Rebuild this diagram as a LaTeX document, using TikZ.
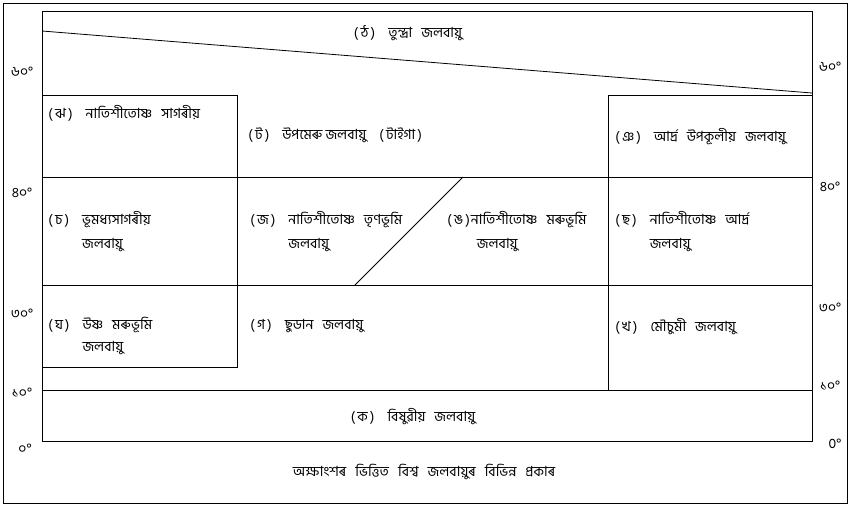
\documentclass[tikz,border=0pt]{standalone}
\usepackage{fontspec}
\newfontfamily\bnfont[Script=Bengali]{Hind Siliguri}
\usetikzlibrary{positioning}
\newcommand{\labgap}{\hspace{13pt}}
\newcommand{\wordgap}{\hspace{9pt}}
\newcommand{\zlab}[1]{(\,#1\,)}

\begin{document}
\begin{tikzpicture}[x=1pt, y=-1pt, line width=0.8pt,
    font=\bnfont\fontsize{14}{17}\selectfont,
    zone/.style={anchor=base west, inner sep=0pt},
    mid zone/.style={anchor=base, inner sep=0pt},
    lat/.style={inner sep=0pt}]
    \useasboundingbox (0,0) rectangle (851,507);
    \draw (3,3) rectangle (847,503);

    % frame and belts
    \coordinate (nw) at (42,11);
    \coordinate (se) at (812,441);
    \draw (nw) rectangle (se);
    \coordinate (t1) at (42,31);
    \coordinate (t2) at (812,93);
    \draw (t1) -- (t2);
    \draw (42,95) -- (237,95) -- (237,367) -- (42,367);
    \draw (812,95) -- (608,95) -- (608,390);
    \draw (42,177) -- (812,177);
    \draw (42,285) -- (812,285);
    \draw (42,390) -- (812,390);
    \coordinate (d1) at (463,177);
    \coordinate (d2) at (355,285);
    \draw (d1) -- (d2);

    % zones
    \node[mid zone] (tundra) at (408,37) {\zlab{ঠ}\labgap তুন্দ্ৰা\wordgap জলবায়ু};
    \node[zone] (seatemp) at (48,118) {\zlab{ঝ}\labgap নাতিশীতোষ্ণ\wordgap সাগৰীয়};
    \node[zone] (taiga) at (248,139) {\zlab{ট}\labgap উপমেৰু\ জলবায়ু\labgap\zlab{টাইগা}};
    \node[zone] (humidcoast) at (615,141) {\zlab{ঞ}\labgap আৰ্দ্ৰ\wordgap উপকূলীয়\wordgap জলবায়ু};
    \node[zone] (medit) at (48,224) {\begin{tabular}[t]{@{}l@{\labgap}l@{}}\zlab{চ} & ভূমধ্যসাগৰীয়\\[7pt] & জলবায়ু\end{tabular}};
    \node[zone] (steppe) at (250,224) {\begin{tabular}[t]{@{}l@{\labgap}l@{}}\zlab{জ} & নাতিশীতোষ্ণ\wordgap তৃণভূমি\\[7pt] & জলবায়ু\end{tabular}};
    \node[zone] (tempdesert) at (447,224) {\begin{tabular}[t]{@{}l@{\hspace{1pt}}l@{}}\zlab{ঙ} & নাতিশীতোষ্ণ\wordgap মৰুভূমি\\[7pt] & \hspace{6pt}জলবায়ু\end{tabular}};
    \node[zone] (temphumid) at (615,224) {\begin{tabular}[t]{@{}l@{\labgap}l@{}}\zlab{ছ} & নাতিশীতোষ্ণ\wordgap আৰ্দ্ৰ\\[7pt] & জলবায়ু\end{tabular}};
    \node[zone] (hotdesert) at (48,329) {\begin{tabular}[t]{@{}l@{\labgap}l@{}}\zlab{ঘ} & উষ্ণ\wordgap মৰুভূমি\\[5pt] & জলবায়ু\end{tabular}};
    \node[zone] (sudan) at (250,329) {\zlab{গ}\labgap ছুডান\wordgap জলবায়ু};
    \node[zone] (monsoon) at (615,331) {\zlab{খ}\labgap মৌচুমী\wordgap জলবায়ু};
    \node[mid zone] (equator) at (413,421) {\zlab{ক}\labgap বিষুৱীয়\wordgap জলবায়ু};
    \node[mid zone] (caption) at (424,476) {অক্ষাংশৰ\wordgap ভিত্তিত\wordgap বিশ্ব\wordgap জলবায়ুৰ\wordgap বিভিন্ন\wordgap প্ৰকাৰ};

    % latitudes
    \node[lat] (l60) at (22,72) {৬০°};
    \node[lat] (l40) at (22,193) {৪০°};
    \node[lat] (l30) at (22,314) {৩০°};
    \node[lat] (l10) at (22,393) {১০°};
    \node[lat] (l0) at (25,449) {০°};
    \node[lat] (r60) at (830,67) {৬০°};
    \node[lat] (r40) at (830,187) {৪০°};
    \node[lat] (r30) at (830,308) {৩০°};
    \node[lat] (r10) at (830,386) {১০°};
    \node[lat] (r0) at (835,444) {0°};
\end{tikzpicture}
\end{document}
